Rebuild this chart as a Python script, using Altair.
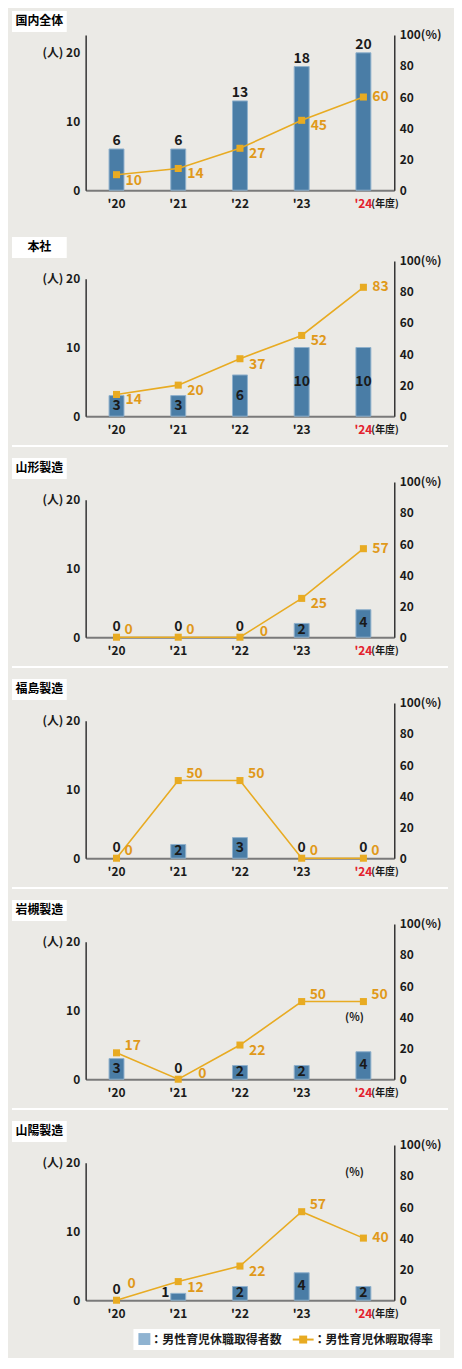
import altair as alt
import pandas as pd

# ---------------- data ----------------
years = ["'20", "'21", "'22", "'23", "'24"]
titles = ["国内全体", "本社", "山形製造", "福島製造", "岩槻製造", "山陽製造"]
counts = [
    [6, 6, 13, 18, 20],
    [3, 3, 6, 10, 10],
    [0, 0, 0, 2, 4],
    [0, 2, 3, 0, 0],
    [3, 0, 2, 2, 4],
    [0, 1, 2, 4, 2],
]
rates = [
    [10, 14, 27, 45, 60],
    [14, 20, 37, 52, 83],
    [0, 0, 0, 25, 57],
    [0, 50, 50, 0, 0],
    [17, 0, 22, 50, 50],
    [0, 12, 22, 57, 40],
]
legend_labels = ["：男性育児休職取得者数", "：男性育児休暇取得率"]
count_ticks = [0, 10, 20]
rate_ticks = [0, 20, 40, 60, 80, 100]

# ---------------- style ----------------
# placement codes of the rate labels (style only)
rate_label_pos = [
    ["br", "br", "br", "br", "r"],
    ["br", "br", "br", "br", "r"],
    ["ur", "ur", "rf", "br", "r"],
    ["ur", "ur", "ur", "ur", "ur"],
    ["ur", "rf", "br", "ur", "ur"],
    ["uu", "br", "br", "ur", "r"],
]
offsets = {"r": (9, 0), "br": (9, 6), "ur": (8, -7), "uu": (11, -16), "rf": (20, -5)}

W, H = 310, 156
FONT = "Noto Sans CJK JP"
BG = "#ebeae6"
BAR = "#4a7da6"
BAR_EDGE = "#8fb0cc"
LEG_BAR = "#8fb3d1"
LINE = "#e8ab22"
RATE_TXT = "#e0991a"
RED = "#e3212d"
TXT = "#1a1a1a"

xaxis = alt.Axis(labels=False, ticks=False, domain=True, domainColor="#7a7a7a",
                 domainWidth=2, grid=False, title=None)


def one(d):
    return alt.Chart(pd.DataFrame(d))


def panel(i):
    df = pd.DataFrame({"year": years, "count": counts[i], "rate": rates[i],
                       "pos": rate_label_pos[i]})
    base = alt.Chart(df)
    x = alt.X("year:N", sort=years, scale=alt.Scale(paddingInner=0, paddingOuter=0),
              axis=xaxis, title=None)
    if i == 0:
        cscale = alt.Scale(domain=[0, 20 * H / (H - 18)], nice=False, zero=True)
    else:
        cscale = alt.Scale(domain=[0, 20], range=[H, 18], nice=False, zero=True)
    caxis = alt.Axis(values=count_ticks, labelExpr="datum.value == 20 ? '(人) 20' : datum.label",
                     ticks=False, grid=False, domainColor="#333333", domainWidth=1.5,
                     labelPadding=6, labelFontSize=12, labelFontWeight="bold",
                     labelColor=TXT, title=None, labelFont=FONT, orient="left")
    rscale = alt.Scale(domain=[0, 100], nice=False)
    raxis = alt.Axis(values=rate_ticks, orient="right",
                     labelExpr="datum.value == 100 ? '100(%)' : datum.label",
                     ticks=False, grid=False, domainColor="#333333", domainWidth=1.5,
                     labelPadding=5, labelFontSize=12, labelFontWeight="bold",
                     labelColor=TXT, title=None, labelFont=FONT)

    def yc(field):
        return alt.Y(field, scale=cscale, axis=None, title=None)

    layers = []
    layers.append(base.transform_filter("datum.count > 0").mark_bar(
        size=15, color=BAR, stroke=BAR_EDGE, strokeWidth=1
    ).encode(x=x, y=alt.Y("count:Q", scale=cscale, axis=caxis, title=None)))

    txt = dict(fontSize=14, fontWeight="bold", color=TXT, font=FONT)
    if i == 0:
        layers.append(base.mark_text(baseline="alphabetic", dy=-4, **txt).encode(
            x=x, y=yc("count:Q"), text="count:Q"))
    else:
        layers.append(base.transform_filter("datum.count >= 2").transform_calculate(
            half="datum.count / 2").mark_text(baseline="middle", **txt).encode(
            x=x, y=yc("half:Q"), text="count:Q"))
        if 0 in counts[i]:
            layers.append(base.transform_filter("datum.count == 0").mark_text(
                baseline="middle", dy=-10, **txt).encode(x=x, y=yc("count:Q"), text="count:Q"))
        if 1 in counts[i]:
            layers.append(base.transform_filter("datum.count == 1").transform_calculate(
                half="datum.count / 2").mark_text(baseline="middle", dx=-13, dy=-4, **txt).encode(
                x=x, y=yc("half:Q"), text="count:Q"))

    yr = alt.Y("rate:Q", scale=rscale, axis=raxis, title=None)
    yr2 = alt.Y("rate:Q", scale=rscale, axis=None, title=None)
    layers.append(base.mark_line(color=LINE, strokeWidth=1.6).encode(x=x, y=yr))
    layers.append(base.mark_square(size=50, color=LINE, opacity=1).encode(x=x, y=yr2))
    for code, (dx, dy) in offsets.items():
        if code in rate_label_pos[i]:
            layers.append(base.transform_filter(alt.datum.pos == code).mark_text(
                align="left", baseline="middle", dx=dx, dy=dy, fontSize=14,
                fontWeight="bold", color=RATE_TXT, font=FONT).encode(
                x=x, y=yr2, text="rate:Q"))

    # year labels
    layers.append(base.mark_text(baseline="middle", fontSize=12, fontWeight="bold",
                                 font=FONT).encode(
        x=x, y=alt.value(H + 14), text="year:N",
        color=alt.condition(alt.datum.year == "'24", alt.value(RED), alt.value(TXT))))
    layers.append(base.transform_filter(alt.datum.year == "'24").mark_text(
        text="(年度)", align="left", baseline="middle", dx=8, fontSize=10,
        fontWeight="bold", font=FONT, color=TXT).encode(x=x, y=alt.value(H + 14)))
    # title box
    layers.append(one({"t": [titles[i]]}).mark_rect(color="white").encode(
        x=alt.value(-74), x2=alt.value(-19), y=alt.value(-24), y2=alt.value(-3)))
    layers.append(one({"t": [titles[i]]}).mark_text(
        align="center", baseline="middle", fontSize=12, fontWeight="bold", font=FONT,
        color="black").encode(x=alt.value(-46.5), y=alt.value(-13.5), text="t:N"))
    # separators
    if 1 <= i <= 4:
        layers.append(one({"t": [0]}).mark_rule(color="white", strokeWidth=2).encode(
            x=alt.value(-74), x2=alt.value(364), y=alt.value(H + 30)))
    # stray (%) marks seen in the reference
    if i == 4:
        layers.append(one({"t": ["(%)"]}).mark_text(
            fontSize=11, fontWeight="bold", font=FONT, color=TXT, baseline="middle").encode(
            x=alt.value(270), y=alt.value(95), text="t:N"))
    if i == 5:
        layers.append(one({"t": ["(%)"]}).mark_text(
            fontSize=11, fontWeight="bold", font=FONT, color=TXT, baseline="middle").encode(
            x=alt.value(270), y=alt.value(28), text="t:N"))
        # legend
        layers.append(one({"t": [0]}).mark_rect(color="white").encode(
            x=alt.value(48), x2=alt.value(356), y=alt.value(H + 29), y2=alt.value(H + 50)))
        layers.append(one({"t": [0]}).mark_rect(color=LEG_BAR).encode(
            x=alt.value(53), x2=alt.value(65), y=alt.value(H + 33), y2=alt.value(H + 45)))
        layers.append(one({"t": [legend_labels[0]]}).mark_text(
            align="left", baseline="middle", fontSize=12, fontWeight="bold", font=FONT,
            color=TXT).encode(x=alt.value(65), y=alt.value(H + 39.5), text="t:N"))
        layers.append(one({"t": [0]}).mark_rule(color=LINE, strokeWidth=2).encode(
            x=alt.value(208), x2=alt.value(229), y=alt.value(H + 39.5)))
        layers.append(one({"t": [0]}).mark_square(color=LINE, size=64, opacity=1).encode(
            x=alt.value(218.5), y=alt.value(H + 39.5)))
        layers.append(one({"t": [legend_labels[1]]}).mark_text(
            align="left", baseline="middle", fontSize=12, fontWeight="bold", font=FONT,
            color=TXT).encode(x=alt.value(229), y=alt.value(H + 39.5), text="t:N"))

    return alt.layer(*layers).resolve_scale(y="independent").properties(width=W, height=H)


panels = [panel(i) for i in range(6)]
rest = alt.vconcat(*panels[1:], spacing=66, bounds="flush")
chart = alt.vconcat(panels[0], rest, spacing=71, bounds="flush").properties(
    padding={"left": 3, "top": 0, "right": 5, "bottom": 5}
).configure(background=BG).configure_view(stroke=None).configure_text(font=FONT)

chart.save("out.html", embed_options={"renderer": "svg", "actions": False})
